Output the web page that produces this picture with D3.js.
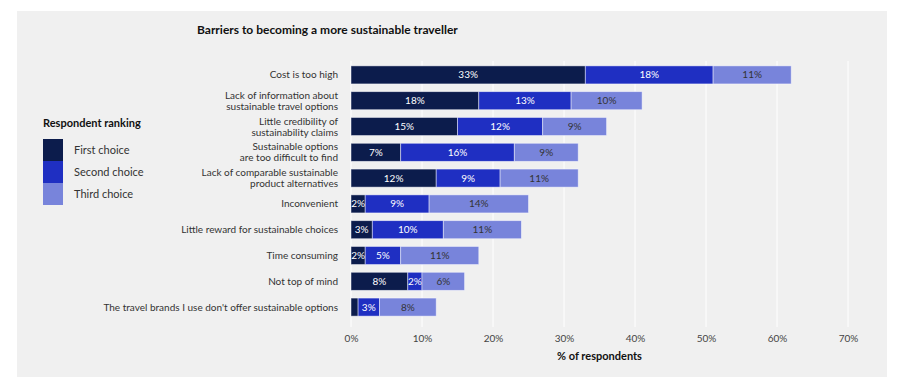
<!DOCTYPE html>
<html>
<head>
<meta charset="utf-8">
<script src="https://cdn.jsdelivr.net/npm/d3@7"></script>
<style>
  body { margin: 0; background: #fff; font-family: Lato, "Open Sans", sans-serif; }
</style>
</head>
<body>
<svg id="chart" width="900" height="389"></svg>
<script>
// barriers, top to bottom
var categories = [
    ["Cost is too high"],
    ["Lack of information about", "sustainable travel options"],
    ["Little credibility of", "sustainability claims"],
    ["Sustainable options", "are too difficult to find"],
    ["Lack of comparable sustainable", "product alternatives"],
    ["Inconvenient"],
    ["Little reward for sustainable choices"],
    ["Time consuming"],
    ["Not top of mind"],
    ["The travel brands I use don't offer sustainable options"]
];
var firstChoice  = [33, 18, 15, 7, 12, 2, 3, 2, 8, 1];
var secondChoice = [18, 13, 12, 16, 9, 9, 10, 5, 2, 3];
var thirdChoice  = [11, 10, 9, 9, 11, 14, 11, 11, 6, 8];
var seriesNames = ["First choice", "Second choice", "Third choice"];
var xTicks = [0, 10, 20, 30, 40, 50, 60, 70];

var colors = ["#0c1c4c", "#1f2fc2", "#7884db"];
var textColors = ["#fff", "#fff", "#333"];

var svg = d3.select("#chart");

svg.append("rect")
    .attr("x", 17).attr("y", 11)
    .attr("width", 870).attr("height", 366)
    .attr("fill", "#f0f0f0");

var x = d3.scaleLinear().domain([0, 70]).range([351, 848]);
var y = d3.scaleBand()
    .domain(d3.range(categories.length))
    .range([62, 320])
    .paddingInner(0.3)
    .paddingOuter(0.15);

// grid
svg.append("g").selectAll("line")
    .data(xTicks)
    .enter().append("line")
    .attr("x1", function(d) { return x(d); })
    .attr("x2", function(d) { return x(d); })
    .attr("y1", 61).attr("y2", 327)
    .attr("stroke", "#fff")
    .attr("stroke-width", 1);

var xAxis = svg.append("g")
    .attr("transform", "translate(0,327)")
    .call(d3.axisBottom(x).tickValues(xTicks).tickSize(0).tickPadding(8)
        .tickFormat(function(d) { return d + "%"; }));
xAxis.select(".domain").remove();
xAxis.selectAll("text")
    .attr("font-family", "Lato, sans-serif")
    .attr("font-size", 10)
    .attr("fill", "#444");

svg.append("text")
    .attr("x", x(35)).attr("y", 360)
    .attr("text-anchor", "middle")
    .attr("font-size", 11).attr("font-weight", 700)
    .attr("fill", "#111")
    .text("% of respondents");

svg.append("text")
    .attr("x", 197).attr("y", 34)
    .attr("font-size", 12).attr("font-weight", 700)
    .attr("fill", "#111")
    .text("Barriers to becoming a more sustainable traveller");

// stacked bars
var rows = categories.map(function(c, i) {
    return { i: i, vals: [firstChoice[i], secondChoice[i], thirdChoice[i]] };
});
var stack = d3.stack().keys([0, 1, 2]).value(function(d, k) { return d.vals[k]; });
var layers = stack(rows);

var layerG = svg.append("g").selectAll("g")
    .data(layers)
    .enter().append("g");

layerG.selectAll("rect")
    .data(function(l) { return l.map(function(d) { return { s: l.key, d: d }; }); })
    .enter().append("rect")
    .attr("x", function(p) { return x(p.d[0]); })
    .attr("width", function(p) { return x(p.d[1]) - x(p.d[0]); })
    .attr("y", function(p) { return y(p.d.data.i); })
    .attr("height", y.bandwidth())
    .attr("fill", function(p) { return colors[p.s]; })
    .attr("stroke", "#fafaff")
    .attr("stroke-opacity", 0.6)
    .attr("stroke-width", 0.8);

layerG.selectAll("text")
    .data(function(l) { return l.map(function(d) { return { s: l.key, d: d }; }); })
    .enter().append("text")
    .filter(function(p) { return p.d[1] - p.d[0] >= 2; })
    .attr("x", function(p) { return x((p.d[0] + p.d[1]) / 2); })
    .attr("y", function(p) { return y(p.d.data.i) + y.bandwidth() / 2; })
    .attr("dy", "0.35em")
    .attr("text-anchor", "middle")
    .attr("font-size", 10)
    .attr("fill", function(p) { return textColors[p.s]; })
    .text(function(p) { return (p.d[1] - p.d[0]) + "%"; });

// category labels
var lineH = 11;
var lab = svg.append("g").selectAll("text")
    .data(categories)
    .enter().append("text")
    .attr("text-anchor", "end")
    .attr("font-size", 10)
    .attr("fill", "#333")
    .attr("x", 338)
    .attr("y", function(d, i) {
        return y(i) + y.bandwidth() / 2 - (d.length - 1) * lineH / 2;
    });
lab.selectAll("tspan")
    .data(function(d) { return d; })
    .enter().append("tspan")
    .attr("x", 338)
    .attr("dy", function(d, j) { return j === 0 ? "0.35em" : lineH; })
    .text(function(d) { return d; });

// legend
var legend = svg.append("g");
legend.append("text")
    .attr("x", 43).attr("y", 127)
    .attr("font-size", 11).attr("font-weight", 700)
    .attr("fill", "#111")
    .text("Respondent ranking");
legend.selectAll("rect")
    .data(seriesNames)
    .enter().append("rect")
    .attr("x", 43)
    .attr("y", function(d, i) { return 139 + i * 22; })
    .attr("width", 20).attr("height", 22)
    .attr("fill", function(d, i) { return colors[i]; });
legend.selectAll("text.item")
    .data(seriesNames)
    .enter().append("text")
    .attr("class", "item")
    .attr("x", 74)
    .attr("y", function(d, i) { return 150 + i * 22; })
    .attr("dy", "0.35em")
    .attr("font-size", 11)
    .attr("fill", "#333")
    .text(function(d) { return d; });
</script>
</body>
</html>
